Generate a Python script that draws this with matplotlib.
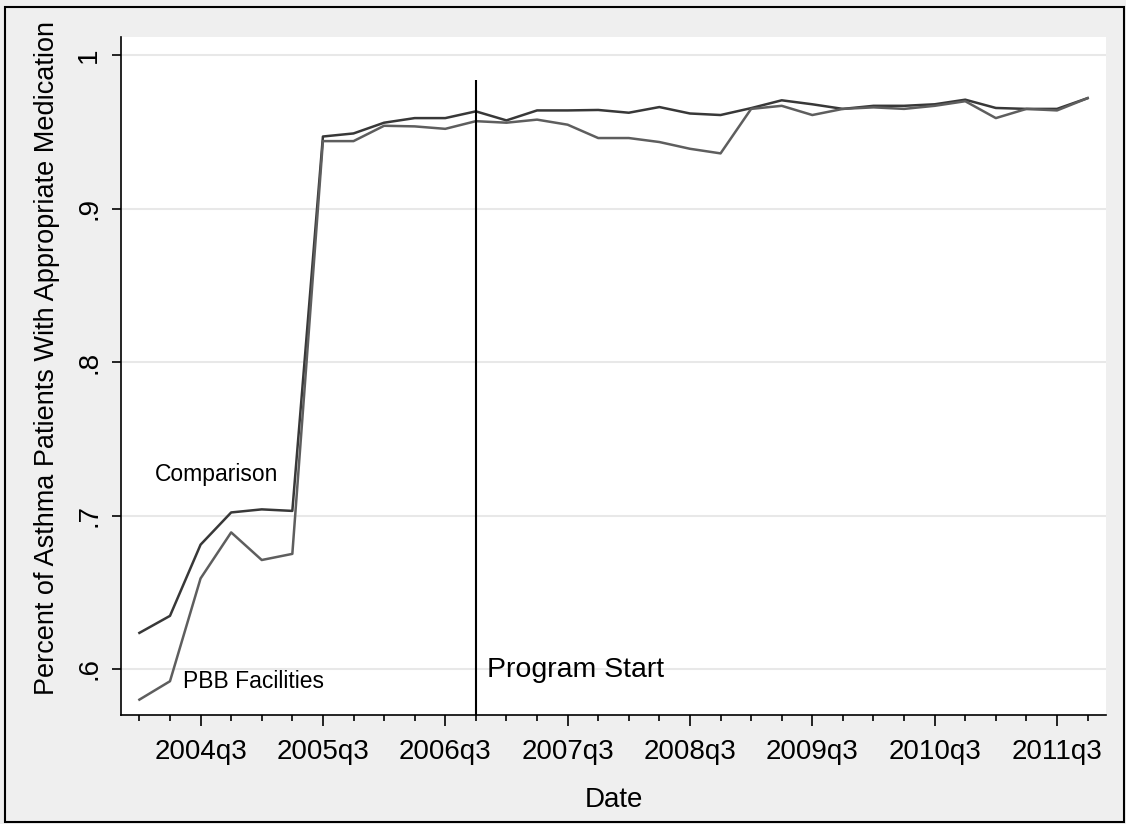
import numpy as np
import matplotlib
matplotlib.use('Agg')
import matplotlib.pyplot as plt
from matplotlib.patches import Rectangle

# quarters 2004q1 .. 2011q4
quarters = [str(y) + 'q' + str(q) for y in range(2004, 2012) for q in range(1, 5)]

comparison = [0.6235, 0.6346, 0.681, 0.702, 0.704, 0.703, 0.947, 0.949,
              0.956, 0.959, 0.959, 0.9634, 0.9575, 0.964, 0.964, 0.9643,
              0.9625, 0.9662, 0.962, 0.961, 0.9655, 0.9706, 0.968, 0.965,
              0.967, 0.967, 0.968, 0.971, 0.9656, 0.965, 0.965, 0.972]
pbb = [0.580, 0.592, 0.659, 0.689, 0.671, 0.675, 0.944, 0.944,
       0.954, 0.9536, 0.952, 0.957, 0.956, 0.958, 0.9547, 0.946,
       0.946, 0.9434, 0.939, 0.936, 0.965, 0.967, 0.961, 0.965,
       0.966, 0.965, 0.967, 0.970, 0.959, 0.965, 0.964, 0.972]

yticks = [0.6, 0.7, 0.8, 0.9, 1.0]
ytick_labels = ['.6', '.7', '.8', '.9', '1']
program_start = '2006q4'

plt.rcParams['font.family'] = ['Liberation Sans', 'DejaVu Sans']

fig = plt.figure(figsize=(11.26, 8.24), dpi=100)
fig.patch.set_facecolor('#efefef')
ax = fig.add_axes([0.1075, 0.1323, 0.8747, 0.8227])
ax.set_facecolor('white')

x = np.arange(len(quarters))
ax.plot(x, comparison, color='#383838', linewidth=1.8)
ax.plot(x, pbb, color='#5e5e5e', linewidth=1.8)

ps = quarters.index(program_start)
ax.vlines(ps, 0.57, 0.984, color='black', linewidth=1.5)

ax.text(0.52, 0.7268, 'Comparison', fontsize=16.5, va='center', ha='left')
ax.text(1.44, 0.592, 'PBB Facilities', fontsize=16.5, va='center', ha='left')
ax.text(ps + 0.36, 0.599, 'Program Start', fontsize=20.5, va='center', ha='left')

ax.set_xlim(-0.6, 31.6)
ax.set_ylim(0.57, 1.0118)

# quarter minor ticks, q3 labelled
ax.set_xticks(x, minor=True)
major = [i for i, q in enumerate(quarters) if q.endswith('q3')]
ax.set_xticks(major)
ax.set_xticklabels([quarters[i] for i in major], fontsize=20)
ax.tick_params(axis='x', which='major', length=8, width=1.2, pad=9)
ax.tick_params(axis='x', which='minor', length=4.3, width=1.2)

ax.set_yticks(yticks)
ax.set_yticklabels(ytick_labels, fontsize=20, rotation=90, va='center')
ax.tick_params(axis='y', length=6.5, width=1.2, pad=7)
ax.grid(axis='y', color='#e8e8e8', linewidth=1.5)
ax.set_axisbelow(True)

for s in ['top', 'right']:
    ax.spines[s].set_visible(False)
for s in ['left', 'bottom']:
    ax.spines[s].set_linewidth(1.2)

ax.set_xlabel('Date', fontsize=20, labelpad=16)
ax.set_ylabel('Percent of Asthma Patients With Appropriate Medication', fontsize=19.5)
ax.yaxis.set_label_coords(-0.062, 0.527)

# outer frame
fig.patches.append(Rectangle((0.004, 0.002), 0.994, 0.99, transform=fig.transFigure,
                             fill=False, edgecolor='black', linewidth=1.5))

plt.savefig('out.png', dpi=100, facecolor=fig.get_facecolor())
